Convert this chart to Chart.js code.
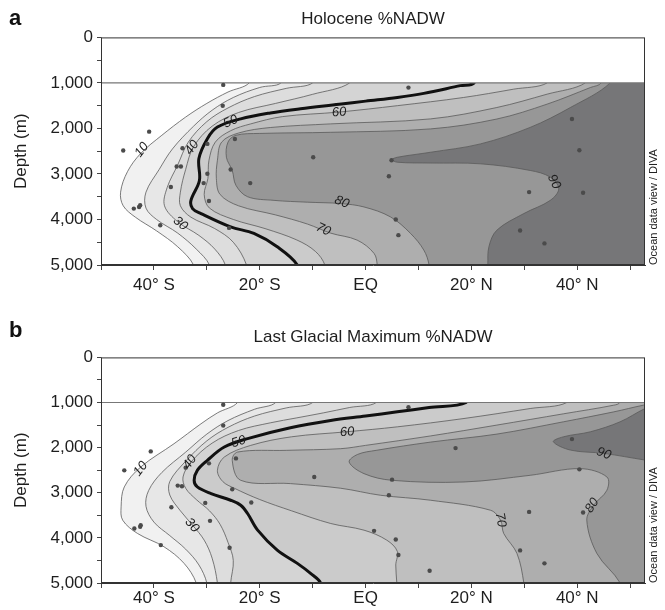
<!DOCTYPE html>
<html>
<head>
<meta charset="utf-8">
<script src="https://cdn.jsdelivr.net/npm/chart.js@4.4.1/dist/chart.umd.min.js"></script>
<style>
  body { margin: 0; background: #fff; }
  canvas { display: block; }
</style>
</head>
<body>
<canvas id="holo" width="665" height="305"></canvas>
<canvas id="lgm" width="665" height="305"></canvas>
<script>
// axes
const latTicks = [-50, -40, -30, -20, -10, 0, 10, 20, 30, 40, 50];
const latLabels = { '-40': '40° S', '-20': '20° S', '0': 'EQ', '20': '20° N', '40': '40° N' };
const depthTicks = [0, 500, 1000, 1500, 2000, 2500, 3000, 3500, 4000, 4500, 5000];
const topDepth = 1000; // no data above this depth

// contour levels (%NADW) and the grey used above each one
const levels = [10, 20, 30, 40, 50, 60, 70, 80, 90];
const bandColors = ['#f1f1f1', '#e7e7e7', '#dddddd', '#d4d4d4', '#cbcbcb', '#bfbfbf', '#aeaeae', '#979797', '#767678'];

// Holocene contours: [latitude, depth m]
const holo10 = [[-22,1000],[-26,1200],[-30,1450],[-34,1750],[-38.5,2150],[-42.5,2550],[-45,2950],[-46.3,3400],[-45.8,3700],[-43.5,3950],[-39.5,4250],[-35.5,4600],[-32.5,5000]];
const holo20 = [[-16,1000],[-20,1100],[-25,1320],[-29,1600],[-32.5,1950],[-36.5,2450],[-39,2900],[-41.5,3400],[-41.5,3750],[-39.5,4000],[-35.5,4300],[-32,4650],[-29.5,5000]];
const holo30 = [[-10,1000],[-15,1120],[-21,1300],[-26,1550],[-30,1850],[-33.5,2300],[-35.5,2800],[-37.5,3300],[-38,3700],[-35.5,4050],[-31.5,4350],[-28.5,4650],[-26.5,5000]];
const holo40 = [[-3,1000],[-10,1250],[-17,1450],[-24,1650],[-29,1950],[-32.5,2400],[-34,2900],[-35,3400],[-35,3700],[-33,3950],[-28.5,4200],[-25,4500],[-22.5,5000]];
const holo50 = [[20.5,1000],[17.9,1060],[11,1230],[6,1320],[0,1400],[-5,1470],[-12.3,1568],[-18,1660],[-23.6,1790],[-28,1970],[-29.9,2224],[-31.5,2661],[-31.4,3142],[-33,3580],[-32.7,3761],[-31.1,3870],[-25.5,4163],[-21.1,4307],[-16.7,4600],[-12.9,5000]];
const holo60 = [[34.3,1000],[28,1137],[18.5,1320],[6,1500],[-5,1640],[-15.7,1740],[-21.7,1900],[-25.5,2050],[-28.4,2300],[-29.6,2700],[-29.8,3100],[-30.5,3450],[-29.5,3750],[-25,4000],[-19,4200],[-13,4450],[-9.5,4700],[-7.7,5000]];
const holo70 = [[41.5,1000],[34.3,1247],[24.8,1540],[12.3,1790],[-6.6,1900],[-18,1980],[-24,2100],[-27.2,2300],[-28,2700],[-28.2,3100],[-27.5,3450],[-24,3700],[-17,3900],[-11,4100],[-6.6,4300],[-1.6,4453],[1.6,4745],[2.2,5000]];
const holo80 = [[44.5,1000],[42.5,1100],[34.3,1466],[24.8,1793],[12.3,2010],[-6.6,2085],[-20,2110],[-24.5,2150],[-26,2300],[-26.3,2633],[-25.2,2923],[-24.5,3250],[-22.3,3500],[-17.3,3580],[-11,3620],[-4.7,3650],[-0.3,3725],[4.7,3943],[8.5,4307],[11,4672],[12,5000]];
const holo90 = [[46.2,1000],[38.7,1540],[31.1,1977],[21.7,2340],[12.3,2523],[6,2633],[5,2685],[6,2742],[12.3,2760],[21.7,2777],[31.1,2923],[34.9,3070],[36.5,3325],[34.9,3580],[29.9,3870],[24.8,4235],[23.3,4600],[23.1,5000]];

// Last Glacial Maximum contours
const lgm10 = [[-24.2,1000],[-28,1230],[-31.1,1471],[-36.2,1913],[-42.5,2430],[-45.6,2871],[-46.2,3313],[-45.9,3608],[-43.1,3902],[-38.1,4197],[-34.3,4565],[-32,5000]];
const lgm20 = [[-17,1000],[-21,1150],[-26,1400],[-30,1700],[-34,2100],[-38.5,2550],[-41,2950],[-41.5,3300],[-40,3650],[-37,3950],[-34,4250],[-31.5,4600],[-30,5000]];
const lgm30 = [[-10,1000],[-15,1120],[-21,1300],[-26,1550],[-30,1850],[-34,2300],[-37,2750],[-37,3050],[-35,3400],[-32.7,3718],[-30.5,4050],[-29,4450],[-28,5000]];
const lgm40 = [[2,1000],[-3,1110],[-8,1230],[-13,1340],[-18,1450],[-24,1620],[-29,1900],[-33,2319],[-34.5,2650],[-34,2900],[-32,3150],[-29.5,3400],[-27.5,3700],[-26,4100],[-25,4500],[-25.5,5000]];
const lgm50 = [[19,1000],[12,1110],[6,1207],[0,1300],[-6.6,1400],[-14.2,1560],[-22.3,1800],[-26.7,1987],[-29.9,2282],[-31.8,2503],[-32.4,2724],[-31.8,2871],[-29.2,3018],[-25.5,3166],[-23.6,3276],[-22.3,3460],[-20.4,3829],[-16.7,4271],[-12.9,4565],[-10.4,4786],[-8.5,5000]];
const lgm60 = [[38,1000],[31.1,1133],[18.6,1354],[6,1539],[-3.5,1648],[-14,1760],[-21.7,1950],[-26.7,2208],[-28,2503],[-27,2750],[-24.8,2900],[-20,3150],[-14,3400],[-6.6,3681],[-0.3,3829],[4,4050],[6,4300],[5.7,4600],[5.9,5000]];
const lgm70 = [[48,1000],[46.9,1059],[37.4,1250],[24.8,1500],[12.3,1740],[0,1950],[-4.7,2023],[-15,2060],[-24.2,2098],[-25.2,2282],[-23.6,2724],[-14.2,2797],[-4.7,2900],[2.8,3055],[12.3,3166],[23.6,3387],[25.5,3608],[26.1,3902],[28.6,4344],[29.9,5000]];
const lgm80 = [[54,1040],[52.5,1059],[46.9,1207],[37.4,1427],[24.8,1700],[12.3,1877],[2,2060],[-1.5,2150],[-3.1,2319],[-0.3,2576],[5,2724],[18.6,2761],[31.1,2613],[40.6,2465],[45.6,2650],[45.6,2945],[43.1,3276],[41.8,3608],[43.7,4344],[48.1,5000]];
const lgm90 = [[54,1100],[52.8,1133],[48.1,1427],[42.5,1648],[37.4,1759],[35.5,1870],[38.7,2054],[45,2127],[52.8,2275],[54,2290]];

// core sites [latitude, depth m]
const holoStations = [[-26.9,1044],[-27,1503],[-40.9,2071],[-45.8,2486],[-34.6,2436],[-29.9,2340],[-24.7,2231],[-35.7,2836],[-34.9,2836],[-25.5,2902],[-29.9,2996],[-36.8,3288],[-30.6,3201],[-21.8,3201],[-9.9,2633],[-29.6,3594],[-43.8,3761],[-42.8,3725],[-42.6,3689],[-38.8,4126],[-25.8,4185],[8.1,1103],[39,1793],[40.4,2480],[4.9,2698],[4.4,3049],[30.9,3398],[41.1,3413],[5.7,4001],[6.2,4344],[29.2,4241],[33.8,4525]];
const lgmStations = [[-26.9,1051],[-26.9,1508],[-40.6,2083],[-45.6,2503],[-34,2444],[-29.6,2348],[-24.5,2238],[-35.5,2841],[-34.7,2856],[-25.2,2923],[-30.3,3225],[-36.7,3320],[-21.6,3217],[-9.7,2650],[-29.4,3623],[-43.7,3791],[-42.6,3755],[-42.5,3718],[-38.7,4160],[-25.7,4219],[8.1,1103],[39,1811],[17,2010],[40.4,2481],[5,2709],[4.4,3055],[30.9,3424],[41.1,3438],[1.6,3844],[5.7,4035],[6.2,4381],[12.1,4728],[29.2,4277],[33.8,4565]];

// contour labels [text, latitude, depth, rotation deg]
const holoLabels = [['10',-42.3,2470,-52],['30',-35,4090,40],['40',-32.8,2420,-55],['50',-25.5,1850,-25],['60',-5,1645,-5],['70',-8,4220,25],['80',-4.5,3620,22],['90',35.6,3170,62]];
const lgmLabels = [['10',-42.5,2470,-52],['30',-32.8,3720,48],['40',-33.2,2320,-55],['50',-24,1870,-18],['60',-3.5,1655,-5],['70',25.5,3600,80],['80',42.8,3280,-55],['90',45,2130,20]];

const FONT = '"Liberation Sans", Arial, sans-serif';
const latMin = -50, latMax = 52.8;

// superlevel region: the contour closed round the right-hand side, outside the plot
function region(line) {
  const pts = line.map(([x, y]) => ({ x, y }));
  const a = pts[0], b = pts[pts.length - 1];
  return [{ x: a.x, y: a.y - 300 }, ...pts, { x: b.x, y: b.y + 300 }, { x: 90, y: b.y + 300 }, { x: 90, y: a.y - 300 }];
}

function buildDatasets(lines, stations) {
  const sets = lines.map((line, i) => ({
    data: region(line),
    fill: 'shape',
    backgroundColor: bandColors[i],
    borderColor: levels[i] === 50 ? '#111' : '#5a5a5a',
    borderWidth: levels[i] === 50 ? 3 : 0.8,
    tension: 0.35,
    capBezierPoints: false,
    pointRadius: 0,
    clip: 0,
    order: 20 - i
  }));
  sets.push({
    data: [{ x: -90, y: topDepth }, { x: 90, y: topDepth }, { x: 90, y: -500 }, { x: -90, y: -500 }],
    fill: 'shape',
    backgroundColor: '#ffffff',
    borderColor: '#777',
    borderWidth: 1.2,
    tension: 0,
    pointRadius: 0,
    clip: 0,
    order: 2
  });
  sets.push({
    data: stations.map(([x, y]) => ({ x, y })),
    showLine: false,
    pointRadius: 2.2,
    pointBackgroundColor: '#4b4b4b',
    pointBorderWidth: 0,
    order: 1
  });
  return sets;
}

const annotate = {
  id: 'annotate',
  afterDraw(chart, args, opts) {
    const { ctx, chartArea: a, scales: { x, y } } = chart;
    ctx.save();
    ctx.strokeStyle = '#333';
    ctx.lineWidth = 1;
    ctx.strokeRect(a.left + 0.5, a.top + 0.5, a.width - 1, a.height - 1);

    ctx.fillStyle = '#1e1e1e';
    ctx.textAlign = 'center';
    ctx.textBaseline = 'middle';
    ctx.font = 'italic 13px ' + FONT;
    opts.labels.forEach(([t, lat, dep, rot]) => {
      ctx.save();
      ctx.translate(x.getPixelForValue(lat), y.getPixelForValue(dep));
      ctx.rotate(rot * Math.PI / 180);
      ctx.fillText(t, 0, 0);
      ctx.restore();
    });

    ctx.font = 'bold 22px ' + FONT;
    ctx.textAlign = 'left';
    ctx.fillStyle = '#111';
    ctx.fillText(opts.letter, 9, opts.letterY);

    ctx.font = '11px ' + FONT;
    ctx.fillStyle = '#222';
    ctx.translate(a.right + 9, a.bottom);
    ctx.rotate(-Math.PI / 2);
    ctx.textAlign = 'left';
    ctx.fillText('Ocean data view / DIVA', 0, 0);
    ctx.restore();
  }
};

function makeChart(id, title, lines, stations, labels, o) {
  return new Chart(document.getElementById(id), {
    type: 'line',
    data: { datasets: buildDatasets(lines, stations) },
    options: {
      responsive: false,
      animation: false,
      events: [],
      layout: { padding: { left: 0, right: 20, top: 0, bottom: 0 } },
      plugins: {
        legend: { display: false },
        tooltip: { enabled: false },
        title: {
          display: true,
          text: title,
          fullSize: false,
          color: '#1e1e1e',
          font: { family: FONT, size: 17, weight: 'normal', lineHeight: 1.2 },
          padding: o.titlePad
        },
        annotate: { labels, letter: o.letter, letterY: o.letterY }
      },
      scales: {
        x: {
          type: 'linear',
          min: latMin,
          max: latMax,
          afterBuildTicks: s => { s.ticks = latTicks.map(v => ({ value: v })); },
          afterFit: s => { s.height = o.xHeight; },
          ticks: {
            autoSkip: false,
            maxRotation: 0,
            padding: o.xPad,
            color: '#1e1e1e',
            font: { family: FONT, size: 17 },
            callback: v => latLabels[v] ?? ''
          },
          grid: { drawOnChartArea: false, drawTicks: true, tickLength: 5, color: '#444' },
          border: { display: true, color: '#333', width: 1 }
        },
        y: {
          type: 'linear',
          reverse: true,
          min: 0,
          max: 5000,
          afterBuildTicks: s => { s.ticks = depthTicks.map(v => ({ value: v })); },
          afterFit: s => { s.width = 101; },
          title: {
            display: true,
            text: 'Depth (m)',
            color: '#1e1e1e',
            font: { family: FONT, size: 17 },
            padding: { top: 11, bottom: 0 }
          },
          ticks: {
            autoSkip: false,
            padding: 4,
            color: '#1e1e1e',
            font: { family: FONT, size: 17 },
            callback: v => (v % 1000 === 0 ? v.toLocaleString('en-US') : '')
          },
          grid: { drawOnChartArea: false, drawTicks: true, tickLength: 4, color: '#444' },
          border: { display: true, color: '#333', width: 1 }
        }
      }
    },
    plugins: [annotate]
  });
}

makeChart('holo', 'Holocene %NADW',
  [holo10, holo20, holo30, holo40, holo50, holo60, holo70, holo80, holo90],
  holoStations, holoLabels,
  { titlePad: { top: 9, bottom: 8 }, xHeight: 40, xPad: 5, letter: 'a', letterY: 19 });

makeChart('lgm', 'Last Glacial Maximum %NADW',
  [lgm10, lgm20, lgm30, lgm40, lgm50, lgm60, lgm70, lgm80, lgm90],
  lgmStations, lgmLabels,
  { titlePad: { top: 22, bottom: 10 }, xHeight: 27, xPad: 0, letter: 'b', letterY: 26 });
</script>
</body>
</html>
